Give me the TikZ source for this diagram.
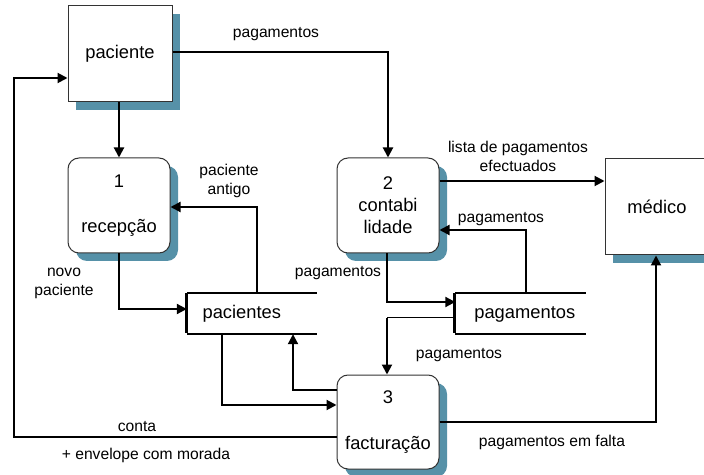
\documentclass[tikz,border=0pt]{standalone}
\usepackage{fontspec}
\setmainfont{Liberation Sans}
\usetikzlibrary{shadows,calc,arrows.meta}
\definecolor{shadowc}{RGB}{86,145,168}
\begin{document}
\begin{tikzpicture}[x=1bp,y=-1bp,
  ent/.style={draw=black!80,line width=1bp,fill=white,minimum width=104bp,minimum height=96bp,inner sep=0pt,
    font=\fontsize{18.4}{22}\selectfont,
    drop shadow={shadow xshift=8bp,shadow yshift=-8bp,fill=shadowc,opacity=1}},
  proc/.style={ent,rounded corners=11bp,minimum width=102bp,minimum height=95bp,align=center},
  store/.style={minimum width=130bp,minimum height=41bp,inner sep=0pt},
  stxt/.style={font=\fontsize{18.4}{22}\selectfont,inner sep=0pt},
  lbl/.style={font=\fontsize{15.7}{19}\selectfont,align=center,inner sep=0pt},
  arr/.style={line width=2bp,-{Triangle[length=10bp,width=10bp]}},
  ln/.style={line width=2bp}
]
\useasboundingbox (0,0) rectangle (704,475);
\clip (0,0) rectangle (704,475);

% entities
\node[ent] (pac) at (120,54) {paciente};
\node[ent] (med) at (657,207) {médico};

% processes
\node[proc,font=\fontsize{18.4}{45}\selectfont] (p1) at (119,205.5) {1\\recepção};
\node[proc,font=\fontsize{18.4}{22}\selectfont] (p2) at (388,205.5) {2\\contabi\\lidade};
\node[proc,font=\fontsize{18.4}{46}\selectfont,minimum height=94bp] (p3) at (388,422) {3\\facturação};

% stores
\node[store] (s1) at (252,313.5) {};
\node[store] (s2) at (520.5,313.5) {};
\foreach \s in {s1,s2}{
  \draw[ln] (\s.north west) -- (\s.north east);
  \draw[ln] (\s.south west) -- (\s.south east);
  \draw[line width=3bp] ($(\s.north west)+(-0.5,0)$) -- ($(\s.south west)+(-0.5,-1)$);
}
\node[stxt] (t1) at ($(s1.west)+(55,0.5)$) {pacientes};
\node[stxt] (t2) at ($(s2.west)+(69.5,0.5)$) {pagamentos};

% flows
\draw[arr] (p1.north |- pac.south) -- (p1.north);
\draw[arr] ($(pac.east)+(0,-2)$) -| (p2.north);
\draw[arr] ($(p3.west)+(0,15)$) -| ($(pac.west)+(-53,24)$) -- ($(pac.west)+(0,24)$);
\draw[arr] (p1.south) |- ($(s1.west)+(0,-4.5)$);
\draw[arr] ($(s1.north)+(5,0)$) |- ($(p1.east)+(0,1.5)$);
\draw[arr] ($(s1.south)+(-30,0)$) |- ($(p3.west)+(0,-17)$);
\draw[arr] ($(p3.west)+(0,-32)$) -| ($(s1.south)+(41,0)$);
\draw[arr] ($(p2.east)+(0,-24.5)$) -- ($(med.west)+(0,-26)$);
\draw[arr] ($(s2.north)+(5.5,0)$) |- ($(p2.east)+(0,24.5)$);
\draw[arr] ($(p2.south)+(-1,0)$) |- ($(s2.west)+(0,-11.5)$);
\coordinate (k) at ($(p3.north)+(-1,0)$);
\draw[line width=1bp] ($(s2.west)+(0,4.5)$) -- (k |- {$(s2.west)+(0,4.5)$});
\draw[arr] (k |- {$(s2.west)+(0,4.5)$}) -- (k);
\draw[arr] (p3.east) -| ($(med.south)+(-1,0)$);

% labels
\node[lbl] (l1) at (276,34) {pagamentos};
\node[lbl] (l2) at (229,181) {paciente\\antigo};
\node[lbl] (l3) at (64,283) {novo\\paciente};
\node[lbl] (l4) at (518,156) {lista de pagamentos\\efectuados};
\node[lbl] (l5) at (501,219) {pagamentos};
\node[lbl] (l6) at (338,273) {pagamentos};
\node[lbl] (l7) at (459,355) {pagamentos};
\node[lbl] (l8) at (137,427) {conta};
\node[lbl] (l9) at (146,455) {+ envelope com morada};
\node[lbl] (l10) at (552,442) {pagamentos em falta};
\end{tikzpicture}
\end{document}
